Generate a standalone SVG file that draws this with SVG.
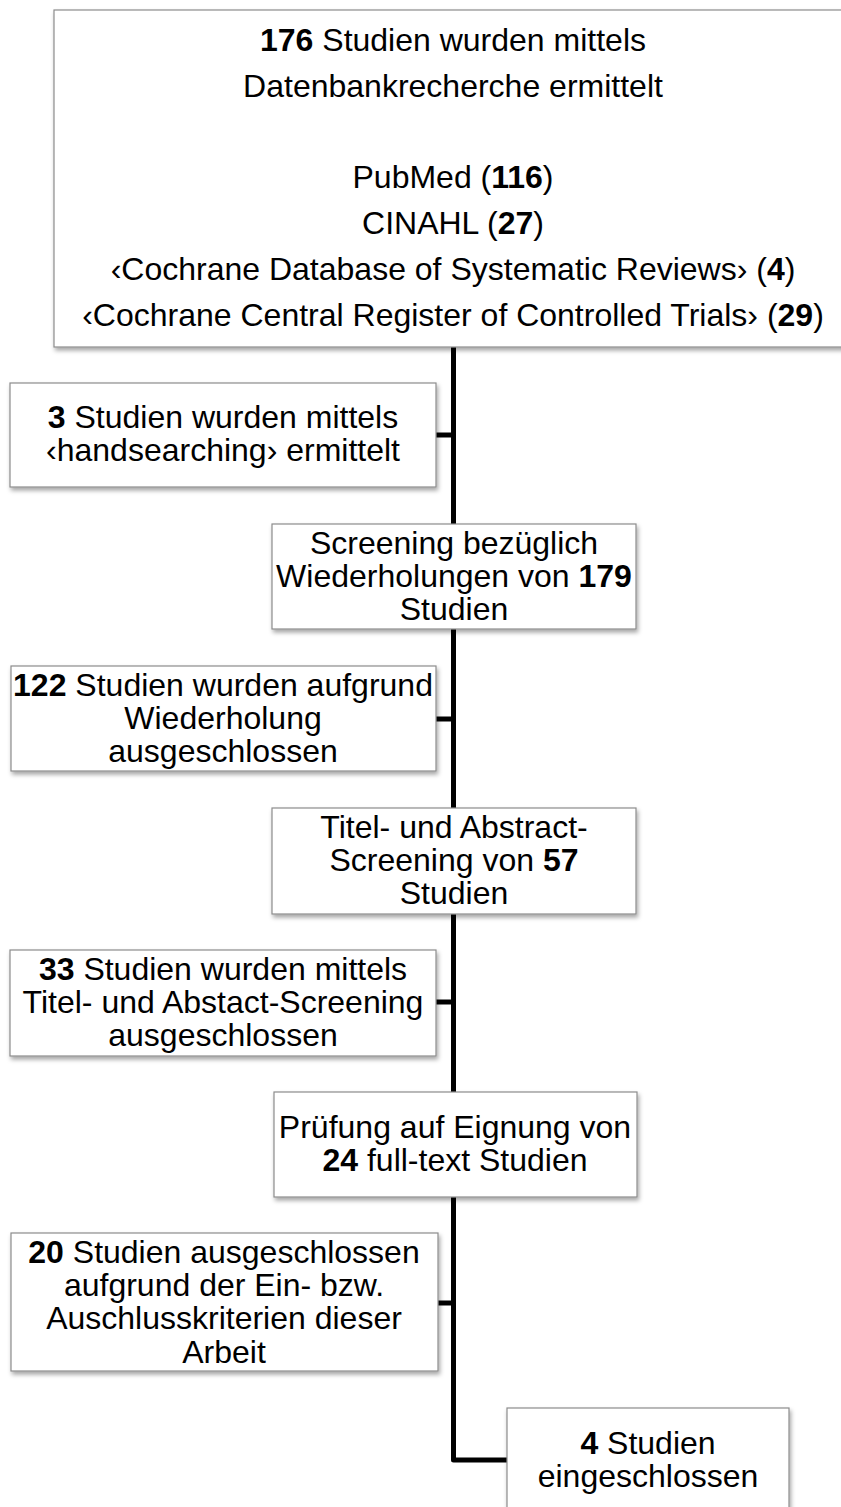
<svg xmlns="http://www.w3.org/2000/svg" width="841" height="1507" viewBox="0 0 841 1507">
<defs>
<filter id="sh" x="-10%" y="-10%" width="130%" height="140%">
<feDropShadow dx="1.5" dy="3" stdDeviation="2" flood-color="#000" flood-opacity="0.35"/>
</filter>
<style>
.box{fill:#fff;stroke:#8c8c8c;stroke-width:1.2;filter:url(#sh)}
.t{font-family:"Liberation Sans",Arial,sans-serif;font-size:32px;fill:#000;text-anchor:middle}
.b{font-weight:bold}
.c{fill:none;stroke:#000;stroke-width:5;stroke-linejoin:round}
</style>
</defs>
<rect width="841" height="1507" fill="#fff"/>
<g id="connectors">
<path class="c" d="M453.5,347 V1460 H507"/>
<path class="c" d="M436,435 H453.5"/>
<path class="c" d="M436,719 H453.5"/>
<path class="c" d="M436,1002 H453.5"/>
<path class="c" d="M438,1303 H453.5"/>
</g>
<g id="n1">
<rect class="box" x="54" y="10" width="798" height="337"/>
<text class="t" x="453" y="51"><tspan class="b">176</tspan> Studien wurden mittels</text>
<text class="t" x="453" y="97">Datenbankrecherche ermittelt</text>
<text class="t" x="453" y="188">PubMed (<tspan class="b">116</tspan>)</text>
<text class="t" x="453" y="234">CINAHL (<tspan class="b">27</tspan>)</text>
<text class="t" x="453" y="280">‹Cochrane Database of Systematic Reviews› (<tspan class="b">4</tspan>)</text>
<text class="t" x="453" y="326">‹Cochrane Central Register of Controlled Trials› (<tspan class="b">29</tspan>)</text>
</g>
<g id="n2">
<rect class="box" x="10" y="383" width="426" height="104"/>
<text class="t" x="223" y="428"><tspan class="b">3</tspan> Studien wurden mittels</text>
<text class="t" x="223" y="461">‹handsearching› ermittelt</text>
</g>
<g id="n3">
<rect class="box" x="272" y="524" width="364" height="105"/>
<text class="t" x="454" y="554">Screening bezüglich</text>
<text class="t" x="454" y="587">Wiederholungen von <tspan class="b">179</tspan></text>
<text class="t" x="454" y="620">Studien</text>
</g>
<g id="n4">
<rect class="box" x="11" y="666" width="425" height="105"/>
<text class="t" x="223" y="696"><tspan class="b">122</tspan> Studien wurden aufgrund</text>
<text class="t" x="223" y="729">Wiederholung</text>
<text class="t" x="223" y="762">ausgeschlossen</text>
</g>
<g id="n5">
<rect class="box" x="272" y="808" width="364" height="106"/>
<text class="t" x="454" y="838">Titel- und Abstract-</text>
<text class="t" x="454" y="871">Screening von <tspan class="b">57</tspan></text>
<text class="t" x="454" y="904">Studien</text>
</g>
<g id="n6">
<rect class="box" x="10" y="950" width="426" height="106"/>
<text class="t" x="223" y="980"><tspan class="b">33</tspan> Studien wurden mittels</text>
<text class="t" x="223" y="1013">Titel- und Abstact-Screening</text>
<text class="t" x="223" y="1046">ausgeschlossen</text>
</g>
<g id="n7">
<rect class="box" x="274" y="1092" width="363" height="105"/>
<text class="t" x="455" y="1138">Prüfung auf Eignung von</text>
<text class="t" x="455" y="1171"><tspan class="b">24</tspan> full-text Studien</text>
</g>
<g id="n8">
<rect class="box" x="11" y="1233" width="427" height="138"/>
<text class="t" x="224" y="1263"><tspan class="b">20</tspan> Studien ausgeschlossen</text>
<text class="t" x="224" y="1296">aufgrund der Ein- bzw.</text>
<text class="t" x="224" y="1329">Auschlusskriterien dieser</text>
<text class="t" x="224" y="1363">Arbeit</text>
</g>
<g id="n9">
<rect class="box" x="507" y="1408" width="282" height="120"/>
<text class="t" x="648" y="1454"><tspan class="b">4</tspan> Studien</text>
<text class="t" x="648" y="1487">eingeschlossen</text>
</g>
</svg>
